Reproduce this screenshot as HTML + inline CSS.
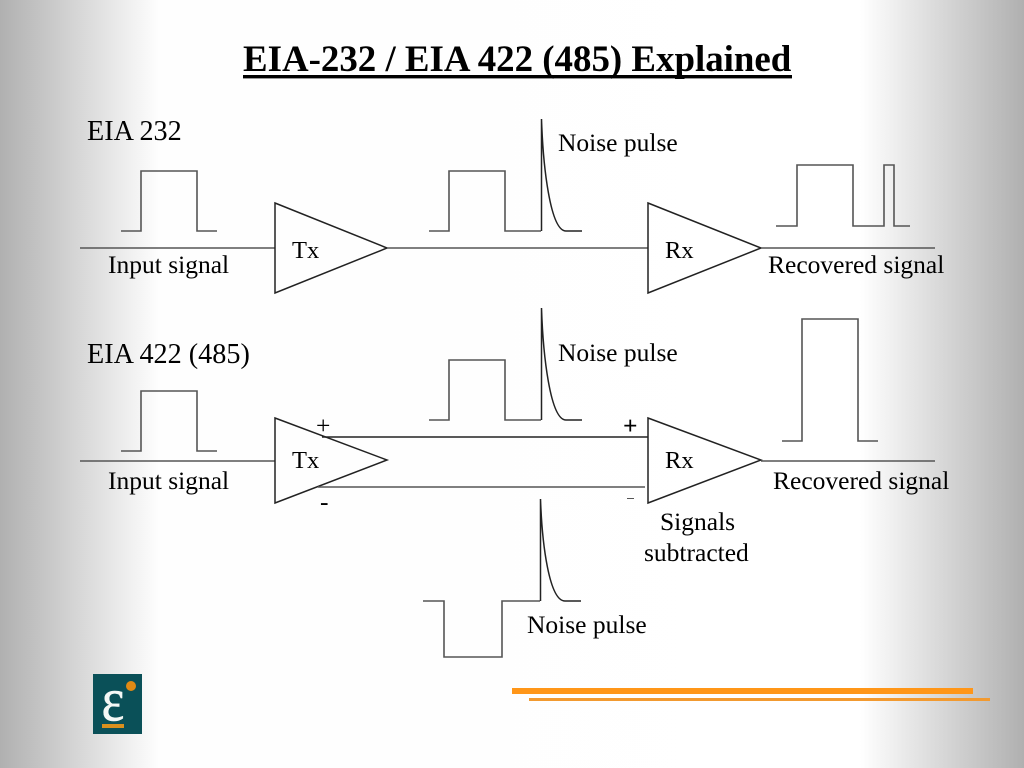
<!DOCTYPE html>
<html>
<head>
<meta charset="utf-8">
<style>
html,body{margin:0;padding:0;width:1024px;height:768px;overflow:hidden}
svg{display:block}
text{font-family:"Liberation Serif",serif;font-size:25.5px;fill:#000}
.l{fill:none;stroke:#222;stroke-width:1.5}
.g{fill:none;stroke:#555;stroke-width:1.6}
</style>
</head>
<body>
<svg width="1024" height="768" viewBox="0 0 1024 768" xmlns="http://www.w3.org/2000/svg">
<defs>
<linearGradient id="bg" x1="0" x2="1" y1="0" y2="0">
<stop offset="0" stop-color="#b0b0b0"/>
<stop offset="0.155" stop-color="#fefefe"/>
<stop offset="0.84" stop-color="#ffffff"/>
<stop offset="1" stop-color="#b0b0b0"/>
</linearGradient>
</defs>
<rect width="1024" height="768" fill="url(#bg)"/>

<text x="243" y="71" style="font-size:36.9px;font-weight:bold">EIA-232 / EIA 422 (485) Explained</text>
<rect x="243" y="75" width="549" height="3.400" fill="#000"/>

<!-- EIA 232 -->
<text x="87" y="140" style="font-size:28.2px">EIA 232</text>
<path class="g" d="M121 231H141V171H197V231H217"/>
<path class="g" d="M80 248H275"/>
<path class="l" d="M275 203L387 248L275 293Z"/>
<text x="292" y="258" style="font-size:24.500px">Tx</text>
<text x="108" y="273">Input signal</text>
<path class="g" d="M387 248H648"/>
<path class="g" d="M429 231H449V171H505V231H541"/>
<path class="l" d="M541.500 231V119C543 165 550 231 566 231H582"/>
<text x="558" y="151">Noise pulse</text>
<path class="l" d="M648 203L761 248L648 293Z"/>
<text x="665" y="258" style="font-size:24.500px">Rx</text>
<path class="g" d="M761 248H935"/>
<path class="g" d="M776 226H797V165H853V226H874"/>
<path class="g" d="M874 226H884V165H894V226H910"/>
<text x="768" y="273">Recovered signal</text>

<!-- EIA 422 -->
<text x="87" y="363" style="font-size:28.2px">EIA 422 (485)</text>
<path class="g" d="M121 451H141V391H197V451H217"/>
<path class="g" d="M80 461H275"/>
<path class="l" d="M275 418L387 460L275 503Z"/>
<text x="292" y="468" style="font-size:24.500px">Tx</text>
<text x="108" y="489">Input signal</text>
<text x="316" y="434">+</text>
<text x="320" y="510">-</text>
<path class="l" d="M322 437H648"/>
<path class="g" d="M318 487H645"/>
<path class="g" d="M429 420H449V360H505V420H541"/>
<path class="l" d="M541.500 420V308C543 354 550 420 566 420H582"/>
<text x="558" y="361">Noise pulse</text>
<path class="l" d="M648 418L761 460L648 503Z"/>
<text x="665" y="468" style="font-size:24.500px">Rx</text>
<text x="623" y="434" style="font-weight:bold">+</text>
<rect x="627" y="498" width="7" height="1" fill="#555"/>
<path class="g" d="M761 461H935"/>
<path class="g" d="M782 441H802V319H858V441H878"/>
<text x="773" y="489">Recovered signal</text>
<text x="660" y="530">Signals</text>
<text x="644" y="561">subtracted</text>

<path class="g" d="M423 601H444V657H502V601H540"/>
<path class="l" d="M540.500 601V499C542 543 549 601 565 601H581"/>
<text x="527" y="633">Noise pulse</text>

<!-- Logo -->
<rect x="93" y="674" width="49" height="60" fill="#0a5058"/>
<circle cx="131" cy="686" r="5" fill="#e08a14"/>
<text transform="translate(101.500 720.500) scale(0.88 1)" x="0" y="0" style="font-size:62px;fill:#f4f8f6;stroke:#f4f8f6;stroke-width:0.5">ε</text>
<rect x="102" y="724" width="22" height="4" fill="#d9901e"/>

<!-- Orange bars -->
<rect x="512" y="688" width="461" height="6" fill="#ff9618"/>
<rect x="529" y="698" width="461" height="3" fill="#f29a30"/>
</svg>
</body>
</html>
